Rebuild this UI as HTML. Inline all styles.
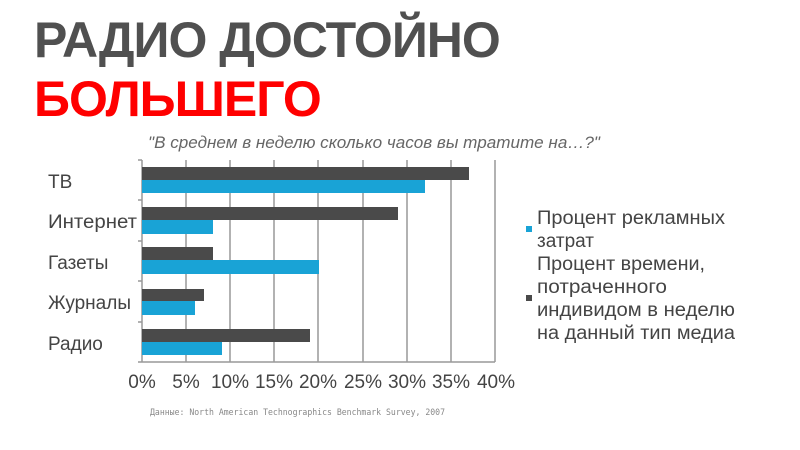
<!DOCTYPE html>
<html><head><meta charset="utf-8"><style>
body{margin:0;width:800px;height:450px;background:#fff;position:relative;overflow:hidden;font-family:"Liberation Sans",sans-serif}
.t{position:absolute;font-weight:bold;font-size:50px;line-height:50px;white-space:nowrap;letter-spacing:-1px}
</style></head><body>
<div class="t" style="left:34px;top:15px;color:#505050">РАДИО ДОСТОЙНО</div>
<div class="t" style="left:34px;top:74px;color:#f00">БОЛЬШЕГО</div>
<svg width="800" height="450" style="position:absolute;left:0;top:0" font-family="Liberation Sans, sans-serif">
<text x="148" y="148" font-size="16.5" font-style="italic" fill="#666" textLength="452" lengthAdjust="spacingAndGlyphs">"В среднем в неделю сколько часов вы тратите на…?"</text>
<g stroke="#999" stroke-width="1.5">
<line x1="186" y1="160" x2="186" y2="362"/><line x1="230" y1="160" x2="230" y2="362"/>
<line x1="274" y1="160" x2="274" y2="362"/><line x1="318" y1="160" x2="318" y2="362"/>
<line x1="363" y1="160" x2="363" y2="362"/><line x1="407" y1="160" x2="407" y2="362"/>
<line x1="451" y1="160" x2="451" y2="362"/><line x1="495" y1="160" x2="495" y2="362"/>
<line x1="142" y1="160" x2="142" y2="362"/><line x1="142" y1="362" x2="495" y2="362"/>
<line x1="138" y1="200" x2="142" y2="200"/><line x1="138" y1="241" x2="142" y2="241"/><line x1="138" y1="281" x2="142" y2="281"/><line x1="138" y1="322" x2="142" y2="322"/><line x1="138" y1="362" x2="142" y2="362"/><line x1="138" y1="160" x2="142" y2="160"/>
</g>
<g fill="#4a4a4a">
<rect x="142" y="167" width="327" height="13"/><rect x="142" y="207" width="256" height="13"/>
<rect x="142" y="247" width="71" height="13"/><rect x="142" y="289" width="62" height="12"/>
<rect x="142" y="329" width="168" height="13"/>
</g>
<g fill="#19a3d6">
<rect x="142" y="180" width="283" height="13"/><rect x="142" y="220" width="71" height="14"/>
<rect x="142" y="260" width="177" height="14"/><rect x="142" y="301" width="53" height="14"/>
<rect x="142" y="342" width="80" height="13"/>
</g>
<g font-size="19" fill="#444">
<text x="48" y="188">ТВ</text><text x="48" y="228" textLength="89" lengthAdjust="spacingAndGlyphs">Интернет</text><text x="48" y="269">Газеты</text>
<text x="48" y="309">Журналы</text><text x="48" y="350">Радио</text>
</g>
<g font-size="19" fill="#444" text-anchor="middle">
<text x="142" y="388">0%</text><text x="186" y="388">5%</text><text x="230" y="388">10%</text><text x="274" y="388">15%</text><text x="318" y="388">20%</text><text x="363" y="388">25%</text><text x="407" y="388">30%</text><text x="451" y="388">35%</text><text x="496" y="388">40%</text>
</g>
<rect x="526" y="226" width="6" height="6" fill="#19a3d6"/>
<rect x="526" y="295" width="6" height="6" fill="#4a4a4a"/>
<g font-size="19" fill="#444">
<text x="537" y="224" textLength="188" lengthAdjust="spacingAndGlyphs">Процент рекламных</text><text x="537" y="247">затрат</text>
<text x="537" y="270" textLength="168" lengthAdjust="spacingAndGlyphs">Процент времени,</text><text x="537" y="293" textLength="130" lengthAdjust="spacingAndGlyphs">потраченного</text>
<text x="537" y="316" textLength="198" lengthAdjust="spacingAndGlyphs">индивидом в неделю</text><text x="537" y="339" textLength="198" lengthAdjust="spacingAndGlyphs">на данный тип медиа</text>
</g>
<text x="150" y="415" font-size="8.5" fill="#888" font-family="DejaVu Sans Mono, monospace" textLength="295" lengthAdjust="spacingAndGlyphs">Данные: North American Technographics Benchmark Survey, 2007</text>
</svg>
</body></html>
